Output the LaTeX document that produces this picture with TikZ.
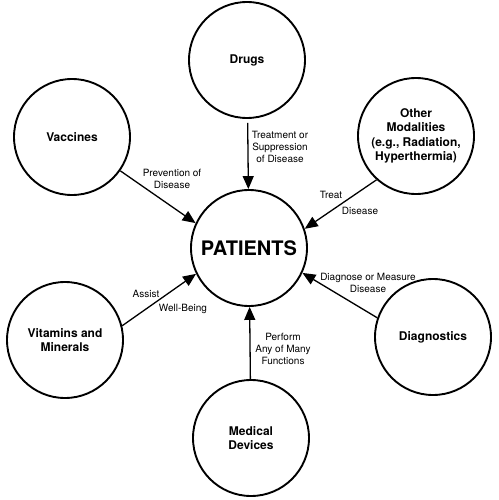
\documentclass[tikz,border=0pt]{standalone}
\usepackage{fontspec}
\setmainfont{TeX Gyre Heros}
\usetikzlibrary{arrows.meta}

\tikzset{
  entity/.style={circle, draw, line width=1.9pt, minimum size=116pt, inner sep=0pt,
    align=center, font=\bfseries\fontsize{12}{14.5}\selectfont},
  hub/.style={entity, font=\bfseries\fontsize{20}{24}\selectfont},
  link/.style={line width=1.3pt, -{Triangle[length=13pt,width=11pt]}},
  note/.style={align=center, inner sep=0pt, font=\fontsize{10}{12}\selectfont},
}

\begin{document}
\begin{tikzpicture}[x=1pt, y=-1pt]

    \useasboundingbox (0,0) rectangle (498,500);

    % Define nodes
    \node[hub]    (patients)    at (249,248) {PATIENTS};
    \node[entity] (drugs)       at (247,60)  {Drugs};
    \node[entity] (vaccines)    at (72,137)  {Vaccines};
    \node[entity] (other)       at (416,136) {Other\\Modalities\\(e.g., Radiation,\\Hyperthermia)};
    \node[entity] (vitamins)    at (65,340)  {Vitamins and\\Minerals};
    \node[entity] (diagnostics) at (433,337) {Diagnostics};
    \node[entity] (devices)     at (251,438) {Medical\\Devices};

    % Labels
    \node[note] (treatment) at (280,147) {Treatment or\\Suppression\\of Disease};
    \node[note] (prevention) at (172,179) {Prevention of\\Disease};
    \node[note] (treat)     at (331,195) {Treat};
    \node[note] (treatdis)  at (360,211) {Disease};
    \node[note] (assist)    at (146,294) {Assist};
    \node[note] (wellbeing) at (183,309) {Well-Being};
    \node[note] (diagnose)  at (368,283) {Diagnose or Measure\\Disease};
    \node[note] (perform)   at (283,349) {Perform\\Any of Many\\Functions};

    % Connect the nodes
    \draw[link, shorten <=4pt] (drugs) -- (patients);
    \draw[link] (vaccines.-35) -- (patients.155);
    \draw[link] (other.228) -- (patients.19);
    \draw[link] (vitamins.14) -- (patients.206);
    \draw[link] (diagnostics.161) -- (patients.-25);
    \draw[link] (devices) -- (patients);

\end{tikzpicture}
\end{document}
